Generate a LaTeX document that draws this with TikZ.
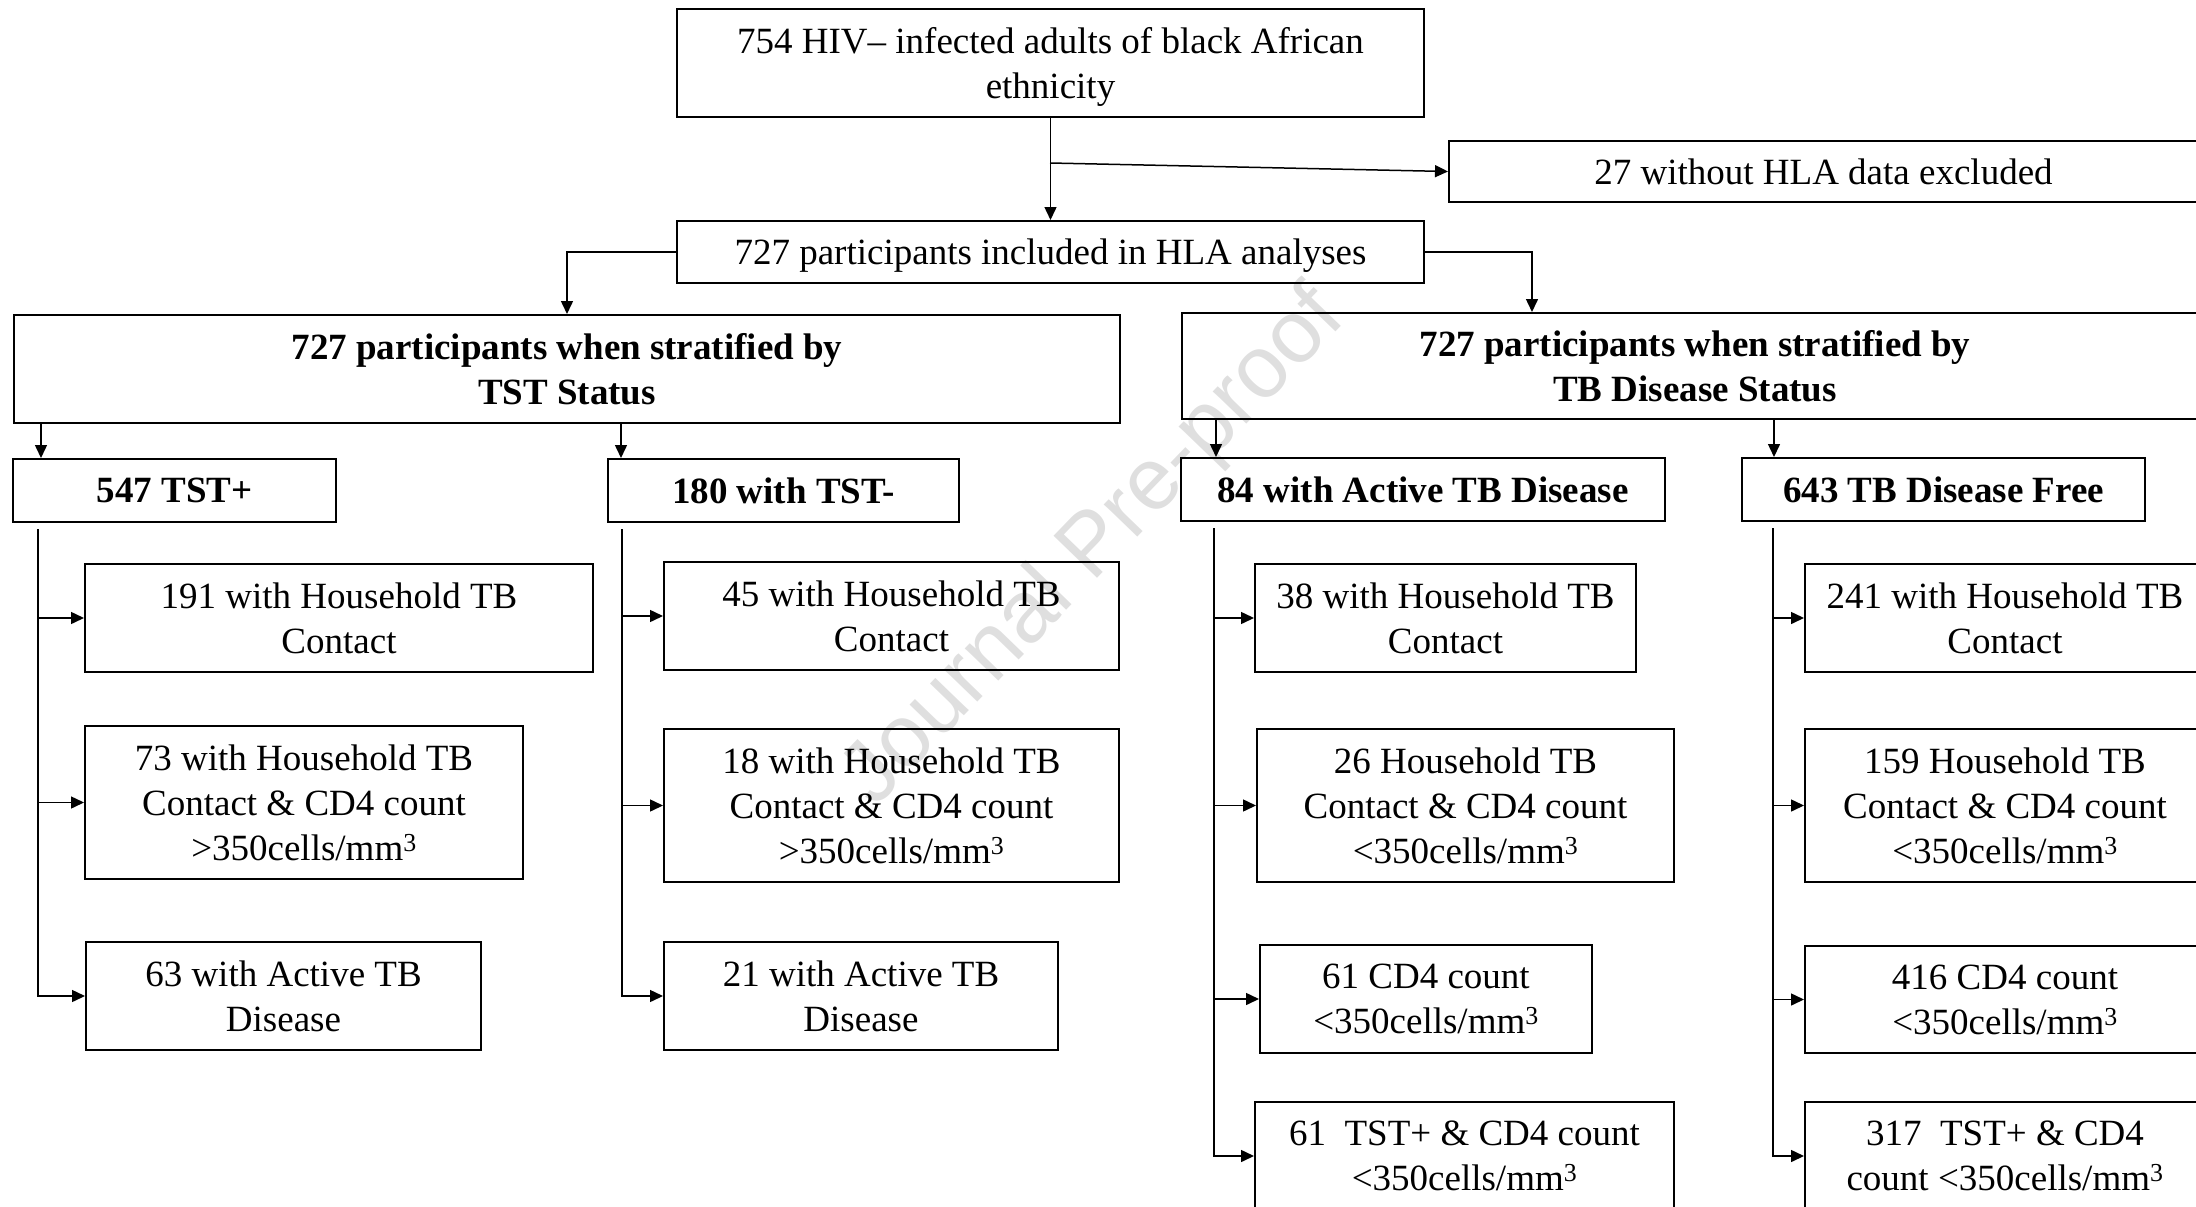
\documentclass[tikz,border=0pt]{standalone}
\usepackage{fontspec}
\setmainfont{Liberation Serif}
\setsansfont{Liberation Sans}
\usetikzlibrary{arrows.meta}

\tikzset{
  box/.style={draw, line width=2pt, align=center, inner sep=0pt, text depth=0pt, font=\fontsize{37}{45}\selectfont},
  headbox/.style={box, font=\fontsize{37}{45}\selectfont\bfseries},
  link/.style={line width=1.5pt, -{Triangle[length=13pt,width=12pt]}},
}

\begin{document}
\begin{tikzpicture}[x=1pt, y=-1pt]
\useasboundingbox (0,0) rectangle (2196,1207);
\clip (0,0) rectangle (2196,1207);
% watermark
\node[rotate=46, text=gray!25, font=\fontsize{88}{88}\selectfont\sffamily] (mark) at (1095,548) {Journal Pre-proof};

% top of the chart
\node[box, minimum width=747pt, minimum height=108pt] (all) at (1050.5,63) {754 HIV– infected adults of black African\\ethnicity};
\node[box, minimum width=749pt, minimum height=61pt] (excl) at (1823.5,171.5) {27 without HLA data excluded};
\node[box, minimum width=747pt, minimum height=62pt] (hla) at (1050.5,252) {727 participants included in HLA analyses};
\node[headbox, minimum width=1106pt, minimum height=108pt] (tst) at (567,369) {727 participants when stratified by\\TST Status};
\node[headbox, minimum width=1026pt, minimum height=106pt] (tb) at (1695,366) {727 participants when stratified by\\TB Disease Status};

% groups
\node[headbox, minimum width=323pt, minimum height=63pt] (pos) at (174.5,490.5) {547 TST+};
\node[headbox, minimum width=351pt, minimum height=63pt] (neg) at (783.5,490.5) {180 with TST-};
\node[headbox, minimum width=484pt, minimum height=63pt] (act) at (1423,489.5) {84 with Active TB Disease};
\node[headbox, minimum width=403pt, minimum height=63pt] (free) at (1943.5,489.5) {643 TB Disease Free};

% TST+
\node[box, minimum width=508pt, minimum height=108pt] (p1) at (339,618) {191 with Household TB\\Contact};
\node[box, minimum width=438pt, minimum height=153pt] (p2) at (304,802.5) {73 with Household TB\\Contact \& CD4 count\\>350cells/mm\textsuperscript{3}};
\node[box, minimum width=395pt, minimum height=108pt] (p3) at (283.5,996) {63 with Active TB\\Disease};
% TST-
\node[box, minimum width=455pt, minimum height=108pt] (n1) at (891.5,616) {45 with Household TB\\Contact};
\node[box, minimum width=455pt, minimum height=153pt] (n2) at (891.5,805.5) {18 with Household TB\\Contact \& CD4 count\\>350cells/mm\textsuperscript{3}};
\node[box, minimum width=394pt, minimum height=108pt] (n3) at (861,996) {21 with Active TB\\Disease};
% active TB
\node[box, minimum width=381pt, minimum height=108pt] (a1) at (1445.5,618) {38 with Household TB\\Contact};
\node[box, minimum width=417pt, minimum height=153pt] (a2) at (1465.5,805.5) {26 Household TB\\Contact \& CD4 count\\<350cells/mm\textsuperscript{3}};
\node[box, minimum width=332pt, minimum height=108pt] (a3) at (1426,999) {61 CD4 count\\<350cells/mm\textsuperscript{3}};
\node[box, minimum width=419pt, minimum height=108pt] (a4) at (1464.5,1156) {61\ \ TST+ \& CD4 count\\<350cells/mm\textsuperscript{3}};
% TB free
\node[box, minimum width=400pt, minimum height=108pt] (f1) at (2005,618) {241 with Household TB\\Contact};
\node[box, minimum width=400pt, minimum height=153pt] (f2) at (2005,805.5) {159 Household TB\\Contact \& CD4 count\\<350cells/mm\textsuperscript{3}};
\node[box, minimum width=400pt, minimum height=107pt] (f3) at (2005,999.5) {416 CD4 count\\<350cells/mm\textsuperscript{3}};
\node[box, minimum width=400pt, minimum height=108pt] (f4) at (2005,1156) {317\ \ TST+ \& CD4\\count <350cells/mm\textsuperscript{3}};

% connectors
\draw[link] (all.south) -- (hla.north);
\coordinate (split) at (1050,163);
\draw[link] (split) -- (excl.west);
\draw[link] (hla.west) -| (tst.north);
\coordinate (in-tb) at ([xshift=351pt]tb.north west);
\draw[link] (hla.east) -| (in-tb);

\foreach \up/\down/\dx in {tst/pos/29, tst/neg/14, tb/act/36, tb/free/33} {
  \coordinate (in-\down) at ([xshift=\dx pt]\down.north west);
  \draw[link] (in-\down |- \up.south) -- (in-\down);
}
\foreach \grp/\dx/\last in {pos/26/p3, neg/15/n3, act/34/a4, free/32/f4} {
  \coordinate (trunk-\grp) at ([xshift=\dx pt, yshift=-6pt]\grp.south west);
  \draw[link] (trunk-\grp) |- (\last.west);
}
\foreach \grp/\kid in {pos/p1, pos/p2, neg/n1, neg/n2, act/a1, act/a2, act/a3, free/f1, free/f2, free/f3}
  \draw[link] (trunk-\grp |- \kid.west) -- (\kid.west);
\end{tikzpicture}
\end{document}
